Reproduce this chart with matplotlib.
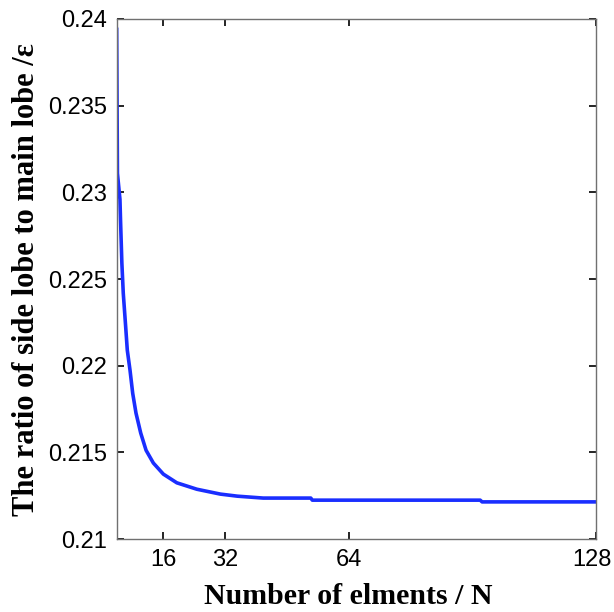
import numpy as np
import matplotlib
matplotlib.use('Agg')
import matplotlib.pyplot as plt
from matplotlib.transforms import ScaledTranslation

# number of elements N and side lobe / main lobe ratio
N = [4.0, 4.2, 4.85, 5.0, 5.35, 5.71, 6.33, 6.75, 7.45, 8.15, 9.0, 10.22,
     11.6, 13.49, 16.08, 19.56, 24.74, 30.8, 35.2, 41.9, 54.2, 54.6,
     98.0, 98.5, 128.0]
ratio = [0.2394, 0.2311, 0.2296, 0.2284, 0.2259, 0.22418, 0.22225, 0.2209,
         0.21975, 0.21841, 0.21727, 0.21612, 0.21513, 0.21439, 0.21375,
         0.21325, 0.21288, 0.2126, 0.21248, 0.21237, 0.21237, 0.21225,
         0.21225, 0.21215, 0.21215]

xticks = [16, 32, 64, 128]
yticks = [0.21, 0.215, 0.22, 0.225, 0.23, 0.235, 0.24]
ylabels = ['0.21', '0.215', '0.22', '0.225', '0.23', '0.235', '0.24']

fig = plt.figure(figsize=(6.14, 6.12), dpi=100)
ax = fig.add_axes([0.190, 0.119, 0.781, 0.850])

ax.plot(N, ratio, color='#1a2eff', lw=2.6)

ax.set_xlim(4, 128)
ax.set_ylim(0.21, 0.24)
ax.set_xticks(xticks)
ax.set_xticklabels([str(t) for t in xticks])
ax.set_yticks(yticks)
ax.set_yticklabels(ylabels)

ax.tick_params(direction='in', length=5, width=1.2, color='black',
               top=True, right=True, pad=7)
for s in ax.spines.values():
    s.set_color('#707070')
    s.set_linewidth(1.0)

for lab in ax.get_xticklabels() + ax.get_yticklabels():
    lab.set_fontfamily('Liberation Sans')
    lab.set_fontsize(17)

# keep the last x label inside the figure
last = ax.get_xticklabels()[-1]
last.set_transform(last.get_transform() + ScaledTranslation(-4/100, 0, fig.dpi_scale_trans))

ax.set_xlabel('Number of elments / N', family='Liberation Serif',
              fontweight='bold', fontsize=21.5, labelpad=5)
ax.xaxis.set_label_coords(0.483, -0.085)
ax.set_ylabel('The ratio of side lobe to main lobe /\u03b5', family='Liberation Serif',
              fontweight='bold', fontsize=22, labelpad=5)

fig.savefig('out.png', dpi=100)
